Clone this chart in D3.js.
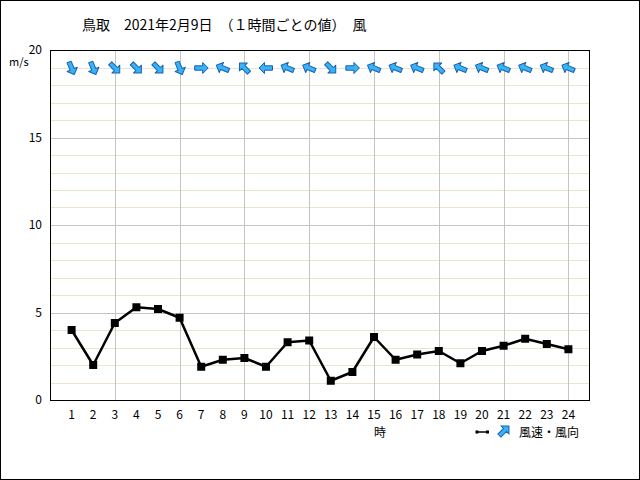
<!DOCTYPE html>
<html><head><meta charset="utf-8">
<script src="https://cdn.jsdelivr.net/npm/d3@7"></script>
<style>body{margin:0;background:#fff}svg{display:block}text{font-family:"Noto Sans CJK JP","DejaVu Sans",sans-serif}</style>
</head><body>
<svg id="c" width="640" height="480"></svg>
<script>
const hours = [1,2,3,4,5,6,7,8,9,10,11,12,13,14,15,16,17,18,19,20,21,22,23,24];
const windSpeed = [4.0,2.0,4.4,5.3,5.2,4.7,1.9,2.3,2.4,1.9,3.3,3.4,1.1,1.6,3.6,2.3,2.6,2.8,2.1,2.8,3.1,3.5,3.2,2.9];
const windFrom = ["北北西","北北西","北西","北西","北西","北北西","西","東南東","南東","東","東南東","東南東","北西","西","東南東","東南東","東南東","南東","東南東","東南東","東南東","東南東","東南東","東南東"];
const compass = ["北","北北東","北東","東北東","東","東南東","南東","南南東","南","南南西","南西","西南西","西","西北西","北西","北北西"];
const yTicks = [0,5,10,15,20];
const titleText = "鳥取　2021年2月9日　（１時間ごとの値）　風";

const svg = d3.select("#c");
svg.append("rect").attr("x",0.5).attr("y",0.5).attr("width",639).attr("height",479).attr("fill","#fff").attr("stroke","#000");

const L=50,R=590,T=50,B=400;
const x = d3.scaleLinear().domain([0,25]).range([L,R]);
const y = d3.scaleLinear().domain([0,20]).range([B,T]);

const g = svg.append("g");
// minor horizontal grid
g.selectAll("line.minor").data(d3.range(1,20).filter(v=>v%5!==0)).join("line")
  .attr("x1",L).attr("x2",R).attr("y1",d=>Math.round(y(d))+0.5).attr("y2",d=>Math.round(y(d))+0.5)
  .attr("stroke","#ece4cc").attr("stroke-width",1);
g.selectAll("line.major").data([5,10,15]).join("line")
  .attr("x1",L).attr("x2",R).attr("y1",d=>Math.round(y(d))+0.5).attr("y2",d=>Math.round(y(d))+0.5)
  .attr("stroke","#c4c4c4").attr("stroke-width",1);
g.selectAll("line.vert").data(hours.filter(h=>h%3===0)).join("line")
  .attr("y1",T).attr("y2",B).attr("x1",d=>Math.round(x(d))+0.5).attr("x2",d=>Math.round(x(d))+0.5)
  .attr("stroke","#c4c4c4").attr("stroke-width",1);

// frame
svg.append("rect").attr("x",L+0.5).attr("y",T+0.5).attr("width",R-L-1).attr("height",B-T).attr("fill","none").attr("stroke","#000");

// y axis labels
svg.selectAll("text.yt").data(yTicks).join("text")
  .attr("x",42).attr("y",d=>y(d)).attr("dy","0.35em").attr("text-anchor","end")
  .attr("font-size",12).attr("fill","#000").text(d=>d);
svg.append("text").attr("x",9).attr("y",66).attr("font-size",11).text("m/s");

// x axis labels
svg.selectAll("text.xt").data(hours).join("text")
  .attr("x",d=>x(d)).attr("y",419).attr("text-anchor","middle")
  .attr("font-size",12).text(d=>d);
svg.append("text").attr("x",374).attr("y",437).attr("font-size",12).text("時");

// title
svg.append("text").attr("x",82).attr("y",30).attr("font-size",14).attr("xml:space","preserve").text(titleText);

// line
const line = d3.line().x((d,i)=>x(hours[i])).y(d=>y(d));
svg.append("path").datum(windSpeed).attr("d",line).attr("fill","none").attr("stroke","#000").attr("stroke-width",2.5).attr("stroke-linejoin","round");
svg.selectAll("rect.pt").data(windSpeed).join("rect")
  .attr("x",(d,i)=>x(hours[i])-4).attr("y",d=>y(d)-4).attr("width",8).attr("height",8).attr("fill","#000");

// arrows
const arrowPath = "M0,-7 L5.5,-1.5 L2.2,-1.5 L2.2,6.5 L-2.2,6.5 L-2.2,-1.5 L-5.5,-1.5 Z";
svg.selectAll("path.arr").data(windFrom).join("path")
  .attr("d",arrowPath)
  .attr("transform",(d,i)=>`translate(${x(hours[i])},68) rotate(${compass.indexOf(d)*22.5+180})`)
  .attr("fill","#36b4f4").attr("stroke","#1a5fb4").attr("stroke-width",1).attr("stroke-linejoin","round");

// legend
svg.append("line").attr("x1",477).attr("x2",487).attr("y1",432).attr("y2",432).attr("stroke","#000").attr("stroke-width",1.5);
svg.append("rect").attr("x",475.5).attr("y",430.5).attr("width",3).attr("height",3).attr("fill","#000");
svg.append("rect").attr("x",486).attr("y",430.5).attr("width",3).attr("height",3).attr("fill","#000");
svg.append("path").attr("d",arrowPath).attr("transform","translate(504,431) rotate(45)")
  .attr("fill","#36b4f4").attr("stroke","#1a5fb4").attr("stroke-width",1);
svg.append("text").attr("x",519).attr("y",437).attr("font-size",12).text("風速・風向");
</script>
</body></html>
